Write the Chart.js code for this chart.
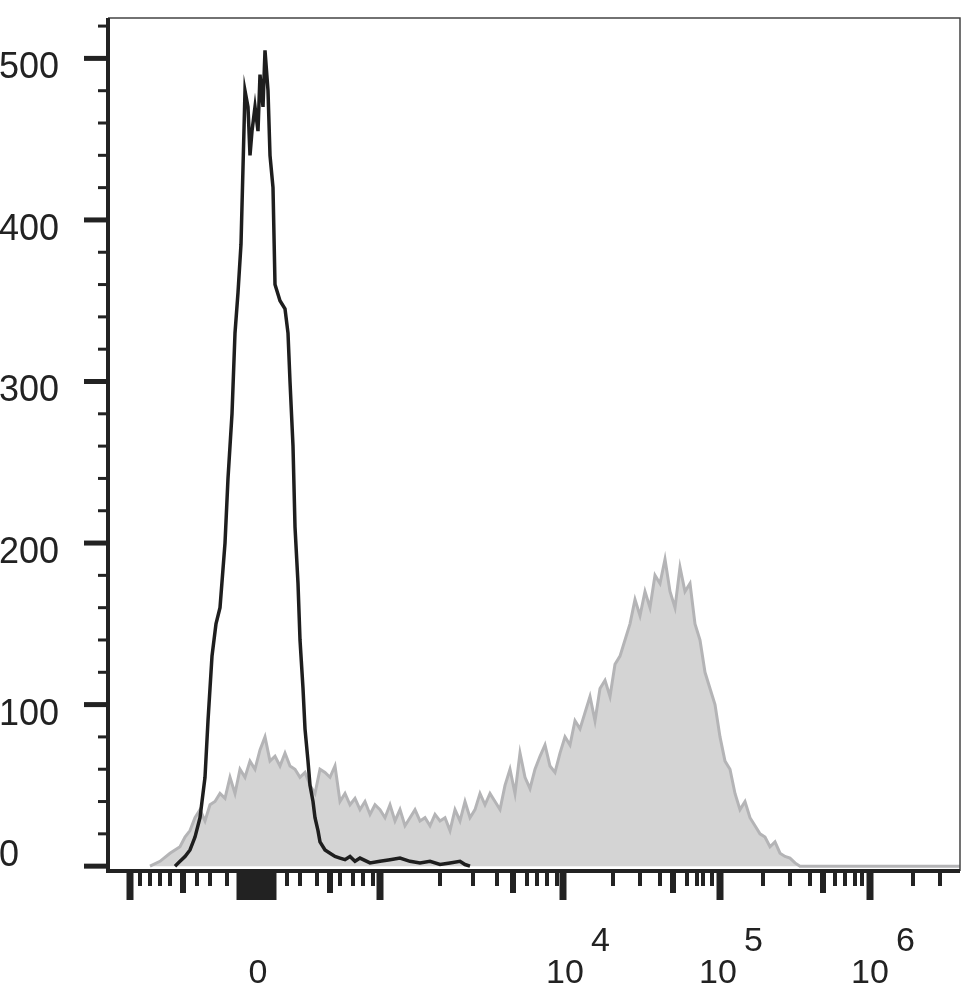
<!DOCTYPE html>
<html><head><meta charset="utf-8">
<script src="https://cdn.jsdelivr.net/npm/chart.js@4"></script>
<style>html,body{margin:0;padding:0;background:#fff}#w{width:977px;height:992px}</style>
</head><body><div id="w"><canvas id="c"></canvas></div>
<script>
// x values are display channels (biexponential scale), y = counts
const blackX = [175,180,185,190,195,200,205,208,212,216,220,225,228,232,235,238,241,245,248,250,252,255,258,260,263,265,268,270,273,275,280,285,288,290,293,295,298,300,303,305,308,310,313,315,318,320,325,330,335,340,345,350,355,360,370,380,390,400,410,420,430,440,450,460,465,470];
const blackY = [0,3,6,10,18,30,55,90,130,150,160,200,240,280,330,355,385,480,470,440,455,470,455,490,470,505,480,440,420,360,350,345,330,300,260,210,175,140,110,85,65,50,40,30,22,15,10,8,6,5,4,6,3,5,2,3,4,5,3,2,3,1,2,3,1,0];
const grayX = [150,160,170,180,185,190,195,200,205,210,215,220,225,230,235,240,245,250,255,260,265,270,275,280,285,290,295,300,305,310,315,320,325,330,335,340,345,350,355,360,365,370,375,380,385,390,395,400,405,410,415,420,425,430,435,440,445,450,455,460,465,470,475,480,485,490,495,500,505,510,515,520,525,530,535,540,545,550,555,560,565,570,575,580,585,590,595,600,605,610,615,620,625,630,635,640,645,650,655,660,665,670,675,680,685,690,695,700,705,710,715,720,725,730,735,740,745,750,755,760,765,770,775,780,785,790,795,800,810,820,830,840,850,860,870,880,890,900,920,940,960];
const grayY = [0,3,8,12,18,22,30,35,28,38,40,45,42,55,45,60,55,65,60,72,80,65,68,62,70,62,60,55,58,50,45,60,58,55,62,40,45,38,42,35,40,32,38,35,30,38,28,35,25,30,35,28,30,25,32,28,30,22,35,28,40,30,35,45,38,45,40,35,50,60,45,70,55,48,60,68,75,62,58,70,80,75,90,85,95,105,90,110,115,105,125,130,140,150,165,155,170,160,180,175,190,170,160,185,170,175,150,140,120,110,100,80,65,60,45,35,40,30,25,20,18,12,15,8,6,5,2,0,0,0,0,0,0,0,0,0,0,0,0,0,0];
const yTickLabels = ['0','100','200','300','400','500'];
const xLongTicks = [130,240,245,250,255,260,265,270,273,380,563,720,870];
const xMedTicks = [183,330,513,673,823];
const xShortTicks = [140,150,160,170,197,210,227,287,300,317,340,353,363,373,440,473,497,527,537,547,557,613,640,660,687,697,703,712,763,790,810,835,845,855,862,913,940];
const xLabels = [{v:258,base:'0',exp:''},{v:565,base:'10',exp:'4'},{v:718,base:'10',exp:'5'},{v:870,base:'10',exp:'6'}];

const axesPlugin = {
  id:'axesP',
  afterDraw(ch){
    const ctx=ch.ctx, xs=ch.scales.x, ys=ch.scales.y, a=ch.chartArea;
    ctx.save();
    ctx.strokeStyle='#444'; ctx.lineWidth=1.5;
    ctx.beginPath(); ctx.moveTo(a.left,a.top); ctx.lineTo(a.right,a.top); ctx.lineTo(a.right,a.bottom); ctx.stroke();
    ctx.strokeStyle='#222'; ctx.lineWidth=4;
    ctx.beginPath(); ctx.moveTo(a.left,a.top); ctx.lineTo(a.left,a.bottom); ctx.lineTo(a.right,a.bottom); ctx.stroke();
    for(let v=0; v<=520; v+=20){
      const p=ys.getPixelForValue(v), major=v%100===0;
      ctx.lineWidth=major?5:3;
      ctx.beginPath(); ctx.moveTo(a.left-(major?24:10),p); ctx.lineTo(a.left,p); ctx.stroke();
    }
    const tick=(arr,len,w)=>{arr.forEach(v=>{const p=xs.getPixelForValue(v);ctx.lineWidth=w;ctx.beginPath();ctx.moveTo(p,a.bottom);ctx.lineTo(p,a.bottom+len);ctx.stroke();});};
    tick(xLongTicks,29,7); tick(xMedTicks,22,6); tick(xShortTicks,15,4);
    ctx.fillStyle='#222'; ctx.font='34px Arial, "Liberation Sans"'; ctx.textBaseline='alphabetic';
    xLabels.forEach(l=>{
      const p=xs.getPixelForValue(l.v);
      ctx.textAlign='center';ctx.fillText(l.base,p,983);
      if(l.exp){ctx.textAlign='left';ctx.fillText(l.exp,p+26,951);}
    });
    ctx.font='36px Arial, "Liberation Sans"'; ctx.textAlign='left'; ctx.textBaseline='middle';
    yTickLabels.forEach(t=>{const p=ys.getPixelForValue(+t); ctx.fillText(t,-1,p+(+t===0?-10:10));});
    ctx.restore();
  }
};

new Chart(document.getElementById('c'),{
  type:'line',
  data:{datasets:[
    {data:grayX.map((x,i)=>({x,y:grayY[i]})),borderColor:'#b4b4b6',backgroundColor:'#d4d4d4',fill:'origin',borderWidth:3,pointRadius:0,tension:0,order:2},
    {data:blackX.map((x,i)=>({x,y:blackY[i]})),borderColor:'#1e1e1e',borderWidth:3.5,fill:false,pointRadius:0,tension:0,order:1}
  ]},
  plugins:[axesPlugin],
  options:{
    responsive:true, maintainAspectRatio:false, animation:false,
    layout:{padding:{top:18,right:17}},
    plugins:{legend:{display:false},tooltip:{enabled:false}},
    scales:{
      x:{type:'linear',min:108,max:960,grid:{display:false},border:{display:false},ticks:{display:false},afterFit(s){s.height=121;}},
      y:{min:-3,max:525,grid:{display:false},border:{display:false},ticks:{display:false},afterFit(s){s.width=108;}}
    }
  }
});
</script></body></html>
